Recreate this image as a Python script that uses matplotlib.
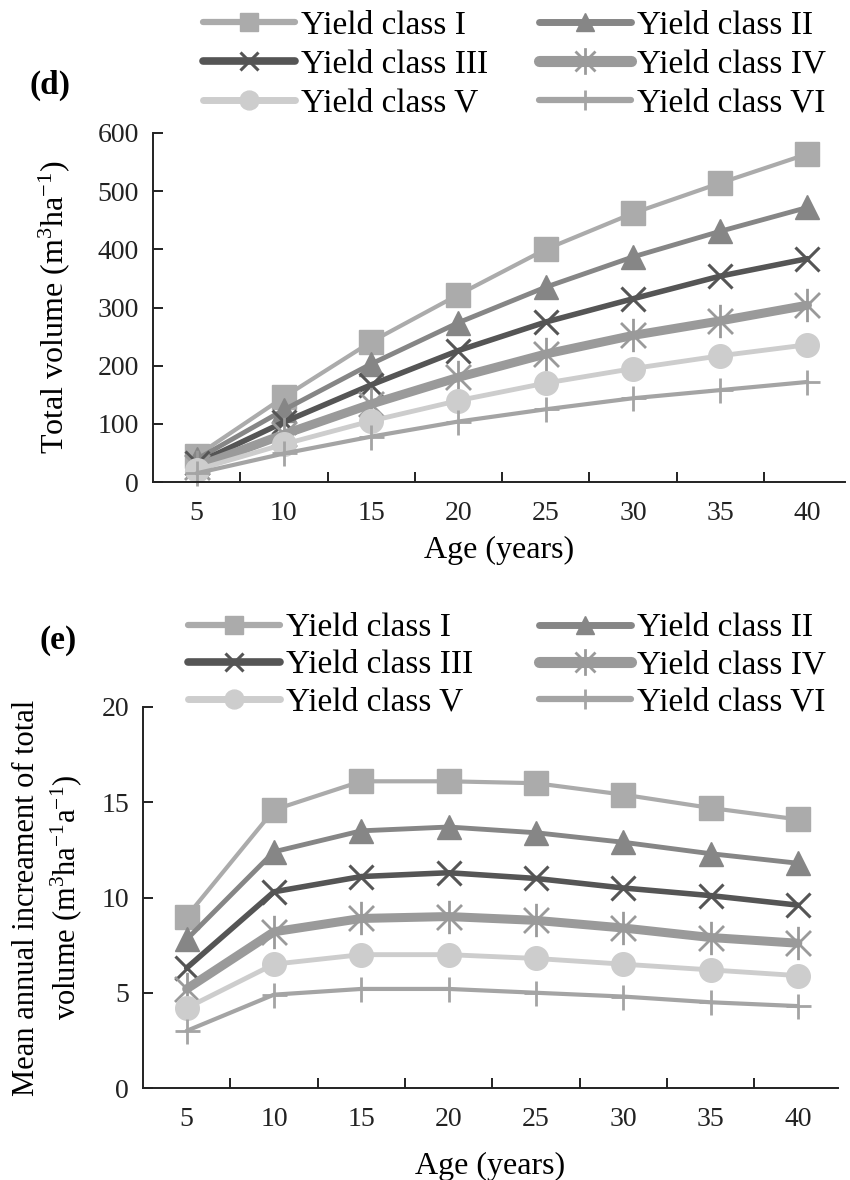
import matplotlib
matplotlib.use("Agg")
import matplotlib.pyplot as plt
from matplotlib.path import Path
from matplotlib.lines import Line2D

plt.rcParams['font.family'] = ['Liberation Serif', 'DejaVu Serif']
plt.rcParams['mathtext.fontset'] = 'custom'
plt.rcParams['mathtext.rm'] = 'Liberation Serif'
plt.rcParams['mathtext.it'] = 'Liberation Serif:italic'
plt.rcParams['mathtext.default'] = 'regular'

ages = [5, 10, 15, 20, 25, 30, 35, 40]
labels = ["Yield class I", "Yield class II", "Yield class III",
          "Yield class IV", "Yield class V", "Yield class VI"]

# Total volume (m3 ha-1)
tv_I = [45, 146, 241, 322, 400, 462, 514, 564]
tv_II = [39, 124, 203, 274, 335, 387, 431, 472]
tv_III = [32, 103, 167, 226, 275, 315, 354, 384]
tv_IV = [26, 82, 134, 180, 220, 252, 277, 304]
tv_V = [21, 65, 105, 140, 170, 195, 217, 236]
tv_VI = [15, 49, 78, 104, 125, 144, 158, 172]

# Mean annual increment of total volume (m3 ha-1 a-1)
mai_I = [9.0, 14.6, 16.1, 16.1, 16.0, 15.4, 14.7, 14.1]
mai_II = [7.8, 12.4, 13.5, 13.7, 13.4, 12.9, 12.3, 11.8]
mai_III = [6.3, 10.3, 11.1, 11.3, 11.0, 10.5, 10.1, 9.6]
mai_IV = [5.2, 8.2, 8.9, 9.0, 8.8, 8.4, 7.9, 7.6]
mai_V = [4.2, 6.5, 7.0, 7.0, 6.8, 6.5, 6.2, 5.9]
mai_VI = [3.0, 4.9, 5.2, 5.2, 5.0, 4.8, 4.5, 4.3]

# asterisk marker: vertical bar + X
ast = Path([(0, -1), (0, 1), (-0.75, -0.75), (0.75, 0.75), (-0.75, 0.75), (0.75, -0.75)],
           [Path.MOVETO, Path.LINETO, Path.MOVETO, Path.LINETO, Path.MOVETO, Path.LINETO])

styles = [
    dict(color='#ababab', lw=3.0, marker='s', ms=17, mew=1),
    dict(color='#868686', lw=3.5, marker='^', ms=17, mew=1),
    dict(color='#555555', lw=4.0, marker='x', ms=17, mew=2.2),
    dict(color='#9a9a9a', lw=6.5, marker=ast, ms=24, mew=2.0),
    dict(color='#cdcdcd', lw=3.5, marker='o', ms=17, mew=1),
    dict(color='#a4a4a4', lw=3.0, marker='+', ms=18, mew=2.0),
]

fig = plt.figure(figsize=(8.5, 11.8), dpi=100)
W, H = 850, 1180

def make_ax(left, right, top, bottom):
    return fig.add_axes([left / W, 1 - bottom / H, (right - left) / W, (bottom - top) / H])

ax1 = make_ax(153, 845, 133, 482)
ax2 = make_ax(143, 838, 707, 1088)

x = list(range(len(ages)))

def draw(ax, series, ylim, yticks, xright, xlabelpad):
    hs = []
    for s, st in zip(series, styles):
        h, = ax.plot(x, s, color=st['color'], lw=st['lw'], marker=st['marker'],
                     ms=st['ms'], mew=st['mew'], mec=st['color'], mfc=st['color'],
                     solid_joinstyle='round', solid_capstyle='round', clip_on=False)
        hs.append(h)
    ax.set_xlim(-0.5, xright)
    ax.set_ylim(*ylim)
    ax.set_yticks(yticks)
    ax.set_xticks([i + 0.5 for i in range(len(ages) - 1)])
    ax.set_xticklabels([])
    ax.set_xticks(x, minor=True)
    ax.set_xticklabels([str(a) for a in ages], minor=True)
    ax.tick_params(axis='x', which='major', direction='in', length=7, width=1.4, color='#222222')
    ax.tick_params(axis='x', which='minor', length=0, pad=14, labelsize=20)
    ax.tick_params(axis='y', direction='in', length=7, width=1.4, color='#222222',
                   pad=10, labelsize=20)
    for sp in ['top', 'right']:
        ax.spines[sp].set_visible(False)
    for sp in ['left', 'bottom']:
        ax.spines[sp].set_linewidth(1.4)
        ax.spines[sp].set_color('#222222')
    ax.set_xlabel('Age (years)', fontsize=23, labelpad=xlabelpad)
    for t in ax.get_xticklabels(minor=True) + ax.get_yticklabels():
        t.set_color('#222222')
    return hs

hs1 = draw(ax1, [tv_I, tv_II, tv_III, tv_IV, tv_V, tv_VI], (0, 600),
           [0, 100, 200, 300, 400, 500, 600], 7.43, 7)
hs2 = draw(ax2, [mai_I, mai_II, mai_III, mai_IV, mai_V, mai_VI], (0, 20),
           [0, 5, 10, 15, 20], 7.46, 14)

ax1.set_ylabel('Total volume (m$^{3}$ha$^{-1}$)', fontsize=23)
ax1.yaxis.set_label_coords((72 - 153) / (845 - 153), 0.5)
ax2.set_ylabel('Mean annual increament of total\nvolume (m$^{3}$ha$^{-1}$a$^{-1}$)',
               fontsize=22, linespacing=1.25)
ax2.yaxis.set_label_coords((84 - 143) / (838 - 143), 0.5)

order = [0, 2, 4, 1, 3, 5]

def legend_handles():
    out = []
    for i in order:
        st = styles[i]
        out.append(Line2D([], [], color=st['color'], lw=st['lw'] + 1.5, marker=st['marker'],
                          ms=st['ms'] * 0.8, mew=st['mew'], mec=st['color'], mfc=st['color'],
                          solid_capstyle='round'))
    return out

fig.legend(legend_handles(), [labels[i] for i in order], ncol=2, loc='upper left',
           bbox_to_anchor=(203 / W, 1 - 10 / H), frameon=False, fontsize=24,
           handlelength=2.75, handletextpad=0.18, columnspacing=1.55,
           labelspacing=0.26, borderpad=0, borderaxespad=0)
fig.legend(legend_handles(), [labels[i] for i in order], ncol=2, loc='upper left',
           bbox_to_anchor=(188 / W, 1 - 613 / H), frameon=False, fontsize=24,
           handlelength=2.75, handletextpad=0.18, columnspacing=2.0,
           labelspacing=0.19, borderpad=0, borderaxespad=0)

fig.text(50 / W, 1 - 85 / H, '(d)', fontsize=24, fontweight='bold', ha='center', va='center')
fig.text(58 / W, 1 - 640 / H, '(e)', fontsize=24, fontweight='bold', ha='center', va='center')

fig.savefig('out.png', dpi=100, facecolor='white')
